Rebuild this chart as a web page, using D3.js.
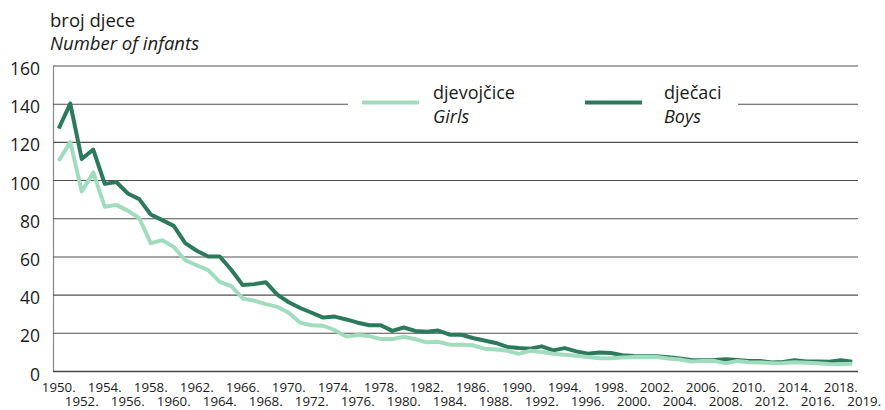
<!DOCTYPE html>
<html>
<head>
<meta charset="utf-8">
<script src="https://cdnjs.cloudflare.com/ajax/libs/d3/7.8.5/d3.min.js"></script>
<style>
  body { margin: 0; background: #fff; }
  #chart { width: 885px; height: 410px; }
  text { font-family: "Open Sans", Lato, sans-serif; fill: #1a1a1a; }
</style>
</head>
<body>
<div id="chart"></div>
<script>
(function() {

  var years = [
    1950, 1951, 1952, 1953, 1954, 1955, 1956, 1957, 1958, 1959,
    1960, 1961, 1962, 1963, 1964, 1965, 1966, 1967, 1968, 1969,
    1970, 1971, 1972, 1973, 1974, 1975, 1976, 1977, 1978, 1979,
    1980, 1981, 1982, 1983, 1984, 1985, 1986, 1987, 1988, 1989,
    1990, 1991, 1992, 1993, 1994, 1995, 1996, 1997, 1998, 1999,
    2000, 2001, 2002, 2003, 2004, 2005, 2006, 2007, 2008, 2009,
    2010, 2011, 2012, 2013, 2014, 2015, 2016, 2017, 2018, 2019
  ];

  // djevojčice / Girls
  var girls = [
    110, 120, 94, 104, 86, 87, 84, 80, 67, 68.5,
    65, 58, 55.4, 52.8, 46.7, 44.4, 38, 36.8, 35, 33.6,
    30.5, 25.3, 24, 23.7, 21.4, 18, 18.8, 18.3, 16.7, 16.7,
    17.9, 16.6, 15, 15.3, 13.8, 13.8, 13.5, 11.7, 11.2, 10.6,
    9, 10.6, 9.9, 9, 8.5, 8, 7.3, 6.7, 6.7, 7.1,
    7.3, 7.3, 7.3, 6.5, 6, 5, 5.2, 5.3, 4, 5.2,
    4.6, 4.5, 4, 4.2, 4.6, 4.3, 4.1, 3.7, 3.6, 3.8
  ];

  // dječaci / Boys
  var boys = [
    127, 140, 111, 116, 98, 99, 93, 90, 82, 79,
    76, 67, 63, 60, 60, 53, 45, 45.5, 46.5, 40,
    36, 33, 30.5, 28, 28.5, 27, 25.3, 24, 24, 21,
    22.8, 21, 20.5, 21.2, 19, 19, 17.3, 16, 14.7, 12.6,
    12, 11.7, 12.9, 10.8, 12, 10.3, 9, 9.7, 9.4, 8.3,
    7.8, 7.7, 7.7, 7.2, 6.5, 5.8, 5.6, 5.7, 6.1, 5.7,
    5.3, 5.2, 4.4, 4.7, 5.7, 5, 5, 4.9, 5.6, 4.9
  ];

  var yTicks = [0, 20, 40, 60, 80, 100, 120, 140, 160];
  var xTicks = [
    1950, 1952, 1954, 1956, 1958, 1960, 1962, 1964, 1966, 1968,
    1970, 1972, 1974, 1976, 1978, 1980, 1982, 1984, 1986, 1988,
    1990, 1992, 1994, 1996, 1998, 2000, 2002, 2004, 2006, 2008,
    2010, 2012, 2014, 2016, 2018, 2019
  ];

  var width = 885, height = 410;
  var pad = { top: 65.5, left: 53, right: 27, bottom: 39 };
  var girlsColor = "#a2dcbe", boysColor = "#2c7a5b";

  var svg = d3.select("#chart").append("svg")
    .attr("width", width)
    .attr("height", height);

  var x = d3.scaleBand()
    .domain(years)
    .range([pad.left, width - pad.right]);
  var y = d3.scaleLinear()
    .domain([0, 160])
    .range([height - pad.bottom, pad.top]);

  var cx = function(yr) { return x(yr) + x.bandwidth() / 2; };

  // y axis + gridlines
  var yAxis = svg.append("g")
    .attr("transform", "translate(" + pad.left + ",0)")
    .call(d3.axisLeft(y)
      .tickValues(yTicks)
      .tickSize(-(width - pad.left - pad.right))
      .tickSizeOuter(0)
      .tickPadding(13));
  yAxis.select(".domain").attr("stroke", "#888").attr("stroke-width", 1.2);
  yAxis.selectAll(".tick line")
    .attr("stroke", function(d) { return d === 0 ? "#444" : "#505050"; })
    .attr("stroke-width", function(d) { return d === 0 ? 1.6 : 1.1; });
  yAxis.selectAll(".tick text")
    .attr("dy", "0.52em")
    .style("font-size", "17.5px")
    .attr("fill", "#1a1a1a");

  // x axis labels, two staggered rows
  var xAxis = svg.append("g")
    .attr("transform", "translate(0," + (height - pad.bottom) + ")")
    .call(d3.axisBottom(x).tickValues(xTicks).tickSize(0).tickFormat(function(d) { return d + "."; }));
  xAxis.select(".domain").remove();
  xAxis.selectAll(".tick text")
    .attr("x", function(d) { return d === 2019 ? 12 : 0; }) // last label sits to the right
    .attr("y", function(d, i) { return i % 2 === 0 ? 11.5 : 25.5; })
    .attr("dy", "0.71em")
    .style("font-size", "13.3px")
    .attr("fill", "#1a1a1a");

  // lines
  var line = d3.line()
    .x(function(d, i) { return cx(years[i]); })
    .y(function(d) { return y(d); });

  svg.append("path")
    .datum(boys)
    .attr("fill", "none")
    .attr("stroke", boysColor)
    .attr("stroke-width", 4)
    .attr("stroke-linejoin", "round")
    .attr("d", line);

  svg.append("path")
    .datum(girls)
    .attr("fill", "none")
    .attr("stroke", girlsColor)
    .attr("stroke-width", 4)
    .attr("stroke-linejoin", "round")
    .attr("d", line);

  // legend
  var legend = svg.append("g");
  legend.append("rect")
    .attr("x", 348).attr("y", 80)
    .attr("width", 390).attr("height", 50)
    .attr("fill", "#fff");

  var items = [
    { name: "djevojčice", en: "Girls", color: girlsColor, x: 362, tx: 433 },
    { name: "dječaci", en: "Boys", color: boysColor, x: 585, tx: 664 }
  ];
  items.forEach(function(it) {
    legend.append("line")
      .attr("x1", it.x).attr("x2", it.x + 57)
      .attr("y1", 102.5).attr("y2", 102.5)
      .attr("stroke", it.color)
      .attr("stroke-width", 4);
    legend.append("text")
      .attr("x", it.tx).attr("y", 98.5)
      .style("font-size", "18px")
      .text(it.name);
    legend.append("text")
      .attr("x", it.tx).attr("y", 123)
      .style("font-size", "18px")
      .style("font-style", "italic")
      .text(it.en);
  });

  // axis title
  svg.append("text")
    .attr("x", 50).attr("y", 27)
    .style("font-size", "18.5px")
    .text("broj djece");
  svg.append("text")
    .attr("x", 50).attr("y", 50)
    .style("font-size", "18.5px")
    .style("font-style", "italic")
    .text("Number of infants");

})();
</script>
</body>
</html>
